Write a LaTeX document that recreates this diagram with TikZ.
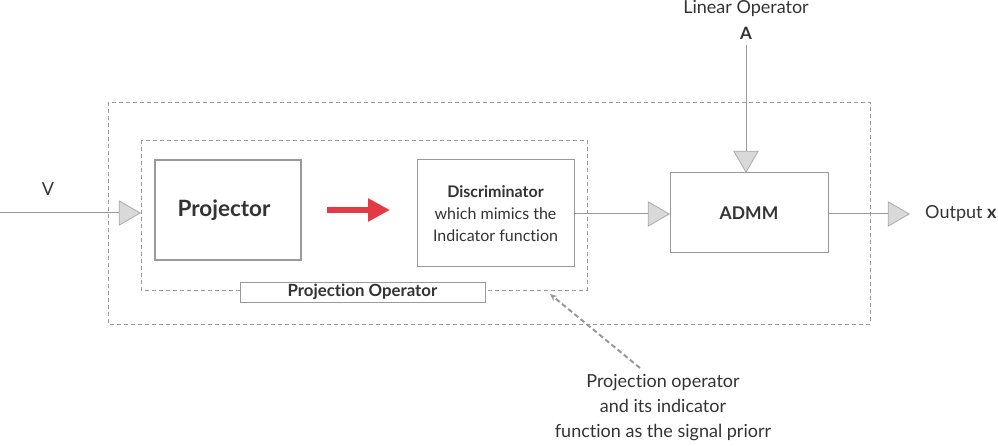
\documentclass[tikz,border=0pt]{standalone}
\usepackage{fontspec}
\setmainfont{Lato}[Ligatures={NoCommon,NoRare,NoDiscretionary}]
\usetikzlibrary{shapes.geometric,arrows.meta}
\definecolor{linegray}{HTML}{999999}
\definecolor{boxgray}{HTML}{9A9A9A}
\definecolor{trifill}{HTML}{D9D9D9}
\definecolor{tristroke}{HTML}{ABABAB}
\definecolor{txt}{HTML}{333333}
\definecolor{redarrow}{HTML}{E63946}
\tikzset{
  tri/.style={isosceles triangle, isosceles triangle apex angle=60, draw=tristroke, fill=trifill,
    minimum height=21pt, inner sep=0pt, line width=0.8pt},
  blockbox/.style={draw=boxgray, line width=1pt, text=txt, align=center, inner sep=0pt},
  dashbox/.style={draw=linegray, line width=0.8pt, dash pattern=on 4pt off 3pt},
  wire/.style={draw=linegray, line width=1pt},
  lbl/.style={text=txt, font=\fontsize{18}{21}\selectfont, inner sep=0pt},
}
\begin{document}
\begin{tikzpicture}[x=1pt,y=-1pt]
\useasboundingbox (0,0) rectangle (998,446);
% dashed frames
\draw[dashbox] (108,102) rectangle (870,324);
\draw[dashbox] (141,140) rectangle (587,290);
\node[draw=boxgray, line width=0.8pt, fill=white, minimum width=245pt, minimum height=20pt, inner sep=0pt,
  text=txt, font=\fontsize{16.8}{18}\selectfont\bfseries] (plabel) at (362.5,292) {Projection Operator};
% blocks
\node[blockbox, line width=2pt, minimum width=146pt, minimum height=100pt,
  font=\fontsize{22.5}{26}\selectfont\bfseries] (proj) at (228,210) {Projector\hspace*{8pt}};
\node[blockbox, minimum width=157pt, minimum height=107pt,
  font=\fontsize{16}{22}\selectfont] (disc) at (495.5,213.5)
  {\textbf{Discriminator}\\which mimics the\\Indicator function};
\node[blockbox, minimum width=158pt, minimum height=80pt,
  font=\fontsize{17.5}{20}\selectfont\bfseries] (admm) at (749,213) {ADMM};
% red arrow
\coordinate (rs) at (327,210);
\coordinate (re) at (390,210);
\draw[draw=redarrow, line width=6pt, -{Triangle[length=22pt,width=22pt]}] (rs) -- (re);
% input V
\coordinate (vin) at (0,213);
\node[tri, anchor=apex] (tv) at (141,213) {};
\draw[wire] (vin) -- (tv.lower side);
\node[lbl] (vlab) at (48,189) {V};
% disc to admm
\node[tri, anchor=apex] (ta) at (670,214) {};
\draw[wire] (disc.east |- ta.lower side) -- (ta.lower side);
% output
\node[tri, anchor=apex] (to) at (910,214) {};
\draw[wire] (admm.east |- to.lower side) -- (to.lower side);
\node[lbl, anchor=west] (outl) at (925,214) {Output \textbf{x}};
% linear operator A
\node[tri, anchor=apex, shape border rotate=-90] (tA) at (746,173) {};
\node[lbl] (linop) at (746,8) {Linear Operator};
\node[lbl, font=\fontsize{17}{20}\selectfont\bfseries] (Alab) at (746,33) {A};
\coordinate (Atop) at (746,45);
\draw[wire] (Atop) -- (tA.lower side);
% annotation
\node[lbl, align=center, font=\fontsize{18}{25}\selectfont] (note) at (663,408)
  {Projection operator\\and its indicator\\function as the signal priorr};
\coordinate (ntail) at (640,368);
\coordinate (nhead) at (550,294);
\draw[draw=linegray, line width=2pt, dash pattern=on 5pt off 3pt, -{Stealth[length=7pt,width=6pt]}] (ntail) -- (nhead);
\end{tikzpicture}
\end{document}
